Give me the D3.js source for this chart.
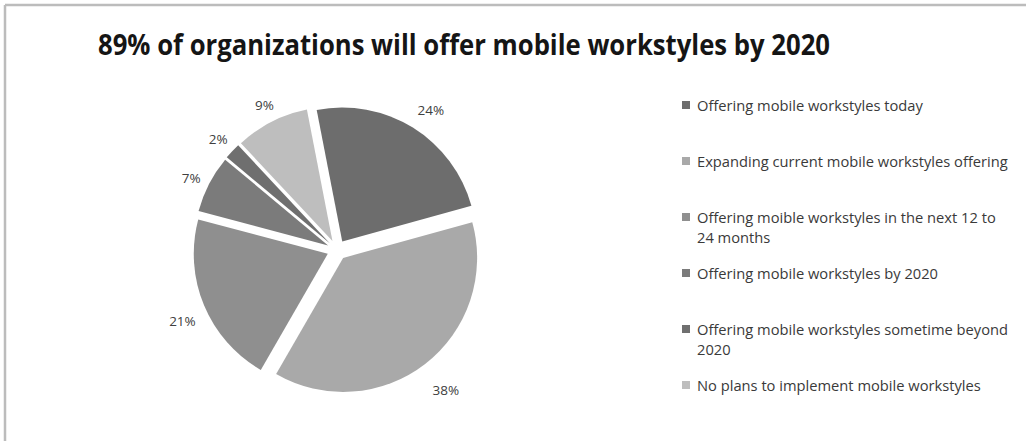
<!DOCTYPE html>
<html>
<head>
<meta charset="utf-8">
<script src="https://cdn.jsdelivr.net/npm/d3@7"></script>
<style>
  html, body { margin: 0; padding: 0; background: #fff; }
  svg { display: block; }
</style>
</head>
<body>
<svg id="chart" width="1026" height="441"></svg>
<script>
const title = "89% of organizations will offer mobile workstyles by 2020";
const categories = [
  "Offering mobile workstyles today",
  "Expanding current mobile workstyles offering",
  "Offering moible workstyles in the next 12 to 24 months",
  "Offering mobile workstyles by 2020",
  "Offering mobile workstyles sometime beyond 2020",
  "No plans to implement mobile workstyles"
];
const values = [24, 38, 21, 7, 2, 9];
const sliceColors = ["#6d6d6d", "#a9a9a9", "#8f8f8f", "#7b7b7b", "#6f6f6f", "#bebebe"];

const svg = d3.select("#chart");
const W = 1026, H = 441;

// frame (top + left border visible)
svg.append("line").attr("x1", 5).attr("y1", 5).attr("x2", W).attr("y2", 5)
  .attr("stroke", "#bcbcbc").attr("stroke-width", 2.5);
svg.append("line").attr("x1", 5).attr("y1", 5).attr("x2", 5).attr("y2", H)
  .attr("stroke", "#bcbcbc").attr("stroke-width", 2.5);

// title
svg.append("text")
  .attr("x", 98).attr("y", 55)
  .attr("font-family", "'Liberation Sans Narrow', 'Open Sans', sans-serif")
  .attr("font-weight", "bold")
  .attr("font-size", 28)
  .attr("fill", "#151515")
  .attr("textLength", 732)
  .attr("lengthAdjust", "spacingAndGlyphs")
  .text(title);

// pie
const cx = 337, cy = 250, R = 134, explode = 10;
const deg = Math.PI / 180;
const pie = d3.pie().sort(null).startAngle(-11 * deg).endAngle(349 * deg);
const arcs = pie(values);
const arc = d3.arc().innerRadius(0).outerRadius(R);

const g = svg.append("g").attr("transform", `translate(${cx},${cy})`);
const mid = d => (d.startAngle + d.endAngle) / 2;

g.selectAll("path.slice").data(arcs).join("path")
  .attr("class", "slice")
  .attr("d", arc)
  .attr("fill", (d, i) => sliceColors[i])
  .attr("transform", d => `translate(${Math.sin(mid(d)) * explode},${-Math.cos(mid(d)) * explode})`);

// labels (outside end)
const labels = g.selectAll("text.lbl").data(arcs).join("text")
  .attr("class", "lbl")
  .attr("font-family", "'Open Sans', sans-serif")
  .attr("font-size", 13.5)
  .attr("fill", "#404040")
  .attr("text-anchor", "middle")
  .attr("dominant-baseline", "central")
  .text(d => d.data + "%");

labels.each(function(d) {
  const bb = this.getBBox();
  const a = mid(d);
  const ux = Math.sin(a), uy = -Math.cos(a);
  const proj = Math.abs(ux) * bb.width / 2 + Math.abs(uy) * bb.height / 2;
  const rr = R + explode + 12 + proj;
  d3.select(this).attr("x", ux * rr + 4).attr("y", uy * rr + 5);
});

// legend
const wrap = (s, n) => {
  const words = s.split(" ");
  const lines = [];
  let cur = "";
  words.forEach(w => {
    const t = cur ? cur + " " + w : w;
    if (t.length > n && cur) { lines.push(cur); cur = w; } else cur = t;
  });
  if (cur) lines.push(cur);
  return lines;
};
const ly = d3.scalePoint().domain(d3.range(categories.length)).range([105, 385]);
const legend = svg.append("g");
categories.forEach((c, i) => {
  const y0 = ly(i);
  legend.append("rect")
    .attr("x", 682).attr("y", y0 - 4).attr("width", 8).attr("height", 8)
    .attr("fill", sliceColors[i]);
  const t = legend.append("text")
    .attr("font-family", "'Open Sans', sans-serif")
    .attr("font-size", 14.7)
    .attr("fill", "#3a3a3a");
  wrap(c, 45).forEach((line, k) => {
    t.append("tspan").attr("x", 697).attr("y", y0 + k * 20)
      .attr("dominant-baseline", "central").text(line);
  });
});
</script>
</body>
</html>
